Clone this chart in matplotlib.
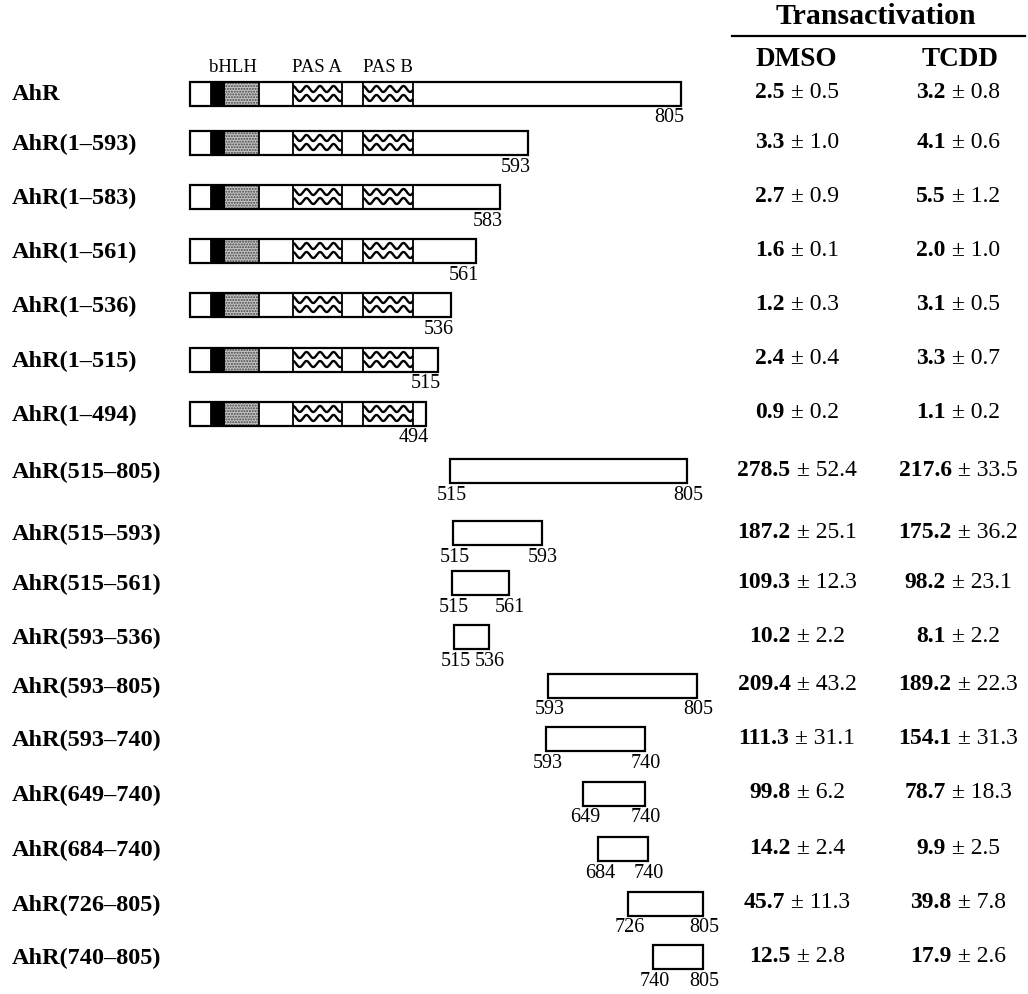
import numpy as np
import matplotlib
matplotlib.use("Agg")
import matplotlib.pyplot as plt
from matplotlib.patches import Rectangle

# constructs, top to bottom
names = ["AhR", "AhR(1–593)", "AhR(1–583)", "AhR(1–561)", "AhR(1–536)", "AhR(1–515)",
         "AhR(1–494)", "AhR(515–805)", "AhR(515–593)", "AhR(515–561)", "AhR(593–536)",
         "AhR(593–805)", "AhR(593–740)", "AhR(649–740)", "AhR(684–740)", "AhR(726–805)",
         "AhR(740–805)"]
start_res = [1, 1, 1, 1, 1, 1, 1, 515, 515, 515, 515, 593, 593, 649, 684, 726, 740]
end_res = [805, 593, 583, 561, 536, 515, 494, 805, 593, 561, 536, 805, 740, 740, 740, 805, 805]
# schematic (not to scale) left/right end of each box on the map
map_left = [190, 190, 190, 190, 190, 190, 190, 450, 453, 452, 454, 548, 546, 583, 598, 628, 653]
map_right = [681, 528, 500, 476, 451, 438, 426, 687, 542, 509, 489, 697, 645, 645, 648, 703, 703]

dmso_mean = ["2.5", "3.3", "2.7", "1.6", "1.2", "2.4", "0.9", "278.5", "187.2", "109.3", "10.2",
             "209.4", "111.3", "99.8", "14.2", "45.7", "12.5"]
dmso_sd = ["0.5", "1.0", "0.9", "0.1", "0.3", "0.4", "0.2", "52.4", "25.1", "12.3", "2.2",
           "43.2", "31.1", "6.2", "2.4", "11.3", "2.8"]
tcdd_mean = ["3.2", "4.1", "5.5", "2.0", "3.1", "3.3", "1.1", "217.6", "175.2", "98.2", "8.1",
             "189.2", "154.1", "78.7", "9.9", "39.8", "17.9"]
tcdd_sd = ["0.8", "0.6", "1.2", "1.0", "0.5", "0.7", "0.2", "33.5", "36.2", "23.1", "2.2",
           "22.3", "31.3", "18.3", "2.5", "7.8", "2.6"]

# domains on the schematic map: (left, right, kind)
domains = [(211, 224, "black"), (224, 259, "stipple"), (293, 342, "wave"), (363, 413, "wave")]
domain_labels = ["bHLH", "PAS A", "PAS B"]
domain_label_x = [233, 317, 388]

W, H = 1028, 995
fig = plt.figure(figsize=(W / 100, H / 100), dpi=100)
ax = fig.add_axes([0, 0, 1, 1])
ax.set_xlim(0, W)
ax.set_ylim(H, 0)
ax.axis("off")
serif = "Liberation Serif"

row_y = [95, 144, 198, 252, 306, 361, 415, 472, 534, 584, 638, 687, 740, 795, 850, 905, 958]
box_h = 24

def wave_fill(x0, x1, yc):
    clip = Rectangle((x0, yc - box_h / 2), x1 - x0, box_h, transform=ax.transData)
    xs = np.linspace(x0 - 2, x1 + 2, 300)
    for off in (-5, 4):
        ln, = ax.plot(xs, yc + off - 3.0 * np.cos((xs - x0) / 13.5 * 2 * np.pi),
                      color="black", lw=1.7, solid_capstyle="butt", zorder=3)
        ln.set_clip_path(clip)

fig.canvas.draw()
renderer = fig.canvas.get_renderer()

def pm_text(xc, y, mean, sd):
    t1 = ax.text(xc, y, mean, fontsize=17, fontweight="bold", family=serif,
                 ha="right", va="center")
    t2 = ax.text(xc, y, " ± " + sd, fontsize=17, family=serif, ha="left", va="center")
    w1 = t1.get_window_extent(renderer).width
    w2 = t2.get_window_extent(renderer).width
    split = xc + (w1 - w2) / 2
    t1.set_x(split)
    t2.set_x(split)

for i, name in enumerate(names):
    yc = row_y[i]
    x0, x1 = map_left[i], map_right[i]
    lab_y = yc + box_h / 2 + 11
    ax.text(12, yc, name, fontsize=17.5, fontweight="bold", family=serif, ha="left", va="center")
    if start_res[i] == 1:
        for dl, dr, kind in domains:
            dr = min(dr, x1)
            if kind == "black":
                ax.add_patch(Rectangle((dl, yc - box_h / 2), dr - dl, box_h,
                                       facecolor="black", edgecolor="none", zorder=2))
            elif kind == "stipple":
                ax.add_patch(Rectangle((dl, yc - box_h / 2), dr - dl, box_h,
                                       facecolor="#c4c4c4", edgecolor="#444444", hatch="......",
                                       lw=0, zorder=2))
            else:
                wave_fill(dl, dr, yc)
            ax.plot([dl, dl], [yc - box_h / 2, yc + box_h / 2], color="black", lw=1.3, zorder=4)
            ax.plot([dr, dr], [yc - box_h / 2, yc + box_h / 2], color="black", lw=1.3, zorder=4)
        ax.text(x1 + 3, lab_y, str(end_res[i]), fontsize=14.5, family=serif,
                ha="right", va="center")
    else:
        ax.text(x0 + 2, lab_y, str(start_res[i]), fontsize=14.5, family=serif,
                ha="center", va="center")
        ax.text(x1 + 1, lab_y, str(end_res[i]), fontsize=14.5, family=serif,
                ha="center", va="center")
    ax.add_patch(Rectangle((x0, yc - box_h / 2), x1 - x0, box_h, facecolor="none",
                           edgecolor="black", lw=1.6, zorder=5))
    pm_text(797, yc - 2, dmso_mean[i], dmso_sd[i])
    pm_text(958, yc - 2, tcdd_mean[i], tcdd_sd[i])

for lab, lx in zip(domain_labels, domain_label_x):
    ax.text(lx, 68, lab, fontsize=13.5, family=serif, ha="center", va="center")

ax.text(876, 16, "Transactivation", fontsize=21.5, fontweight="bold", family=serif,
        ha="center", va="center")
ax.plot([732, 1025], [37, 37], color="black", lw=1.6)
ax.text(796, 60, "DMSO", fontsize=19.5, fontweight="bold", family=serif, ha="center", va="center")
ax.text(960, 60, "TCDD", fontsize=19.5, fontweight="bold", family=serif, ha="center", va="center")

fig.savefig("out.png", dpi=100)
